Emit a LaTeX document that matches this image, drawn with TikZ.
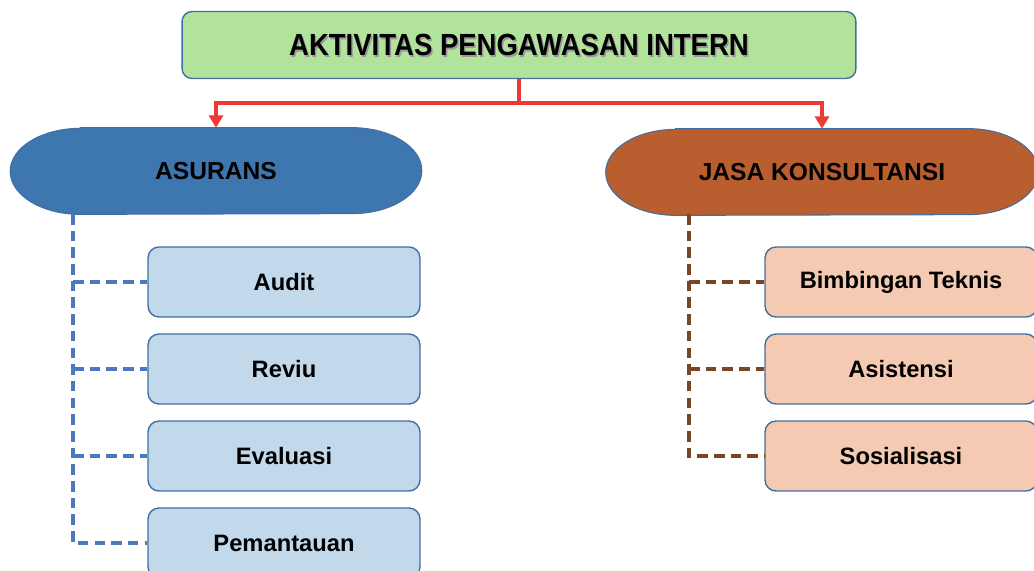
\documentclass[tikz,border=0pt]{standalone}
\usepackage{fontspec}
\setmainfont{Liberation Sans}
\usetikzlibrary{arrows.meta,backgrounds}
\definecolor{titlegreen}{RGB}{178,227,155}
\definecolor{edgeblue}{RGB}{68,109,160}
\definecolor{asuransblue}{RGB}{62,119,176}
\definecolor{jasabrown}{RGB}{185,94,46}
\definecolor{lightblue}{RGB}{194,216,235}
\definecolor{lightpeach}{RGB}{244,203,178}
\definecolor{dashblue}{RGB}{76,120,190}
\definecolor{dashbrown}{RGB}{122,68,39}
\definecolor{linkred}{RGB}{236,59,52}
\begin{document}
\begin{tikzpicture}[x=0.02cm,y=0.02cm,
    title node/.style={rectangle,rounded corners=0.2cm,draw=edgeblue,line width=0.8pt,fill=titlegreen,minimum width=13.48cm,minimum height=1.34cm},
    title text/.style={font=\bfseries\fontsize{17.4}{20}\selectfont},
    group node/.style={rectangle,minimum height=1.72cm,font=\bfseries\fontsize{14}{16}\selectfont},
    group shape/.style={draw=edgeblue,line width=0.6pt},
    item node/.style={rectangle,rounded corners=0.22cm,draw=edgeblue,line width=0.8pt,minimum width=5.44cm,minimum height=1.4cm,font=\bfseries\fontsize{13.5}{16}\selectfont},
    red link/.style={draw=linkred,line width=2.3pt,-{Triangle[length=7pt,width=8pt]}},
    blue dash/.style={draw=dashblue,line width=2.3pt,dash pattern=on 6pt off 3.5pt},
    brown dash/.style={draw=dashbrown,line width=2.3pt,dash pattern=on 6pt off 3.5pt}]
    \useasboundingbox (0,0) rectangle (1034,-571);
    \node[title node] at (519,-45) (title) {};
    \node[title text,text=gray!80] at (520.5,-46.5) {\scalebox{0.9}[1]{AKTIVITAS PENGAWASAN INTERN}};
    \node[title text] at (519,-45) (titletext) {\scalebox{0.9}[1]{AKTIVITAS PENGAWASAN INTERN}};
    \node[group node,minimum width=8.22cm] at (216,-171) (asurans) {ASURANS};
    \node[group node,minimum width=8.64cm] at (822,-172) (jasa) {JASA KONSULTANSI};
    \begin{scope}[on background layer]
        \foreach \g/\c in {asurans/asuransblue,jasa/jasabrown}
            \path[group shape,fill=\c] ([xshift=1.4cm]\g.north west) -- ([xshift=-1.4cm]\g.north east)
                arc[start angle=90,end angle=-90,x radius=1.4cm,y radius=0.86cm]
                -- ([xshift=1.4cm]\g.south west)
                arc[start angle=270,end angle=90,x radius=1.4cm,y radius=0.86cm] -- cycle;
    \end{scope}
    \node[item node,fill=lightblue] at (284,-282) (audit) {Audit};
    \node[item node,fill=lightblue] at (284,-369) (reviu) {Reviu};
    \node[item node,fill=lightblue] at (284,-456) (evaluasi) {Evaluasi};
    \node[item node,fill=lightblue] at (284,-543) (pemantauan) {Pemantauan};
    \node[item node,fill=lightpeach] at (901,-282) (bimtek) {Bimbingan Teknis};
    \node[item node,fill=lightpeach] at (901,-369) (asistensi) {Asistensi};
    \node[item node,fill=lightpeach] at (901,-456) (sosialisasi) {Sosialisasi};
    \coordinate (lspine) at (73,-214);
    \coordinate (rspine) at (689,-214);
    \coordinate (fork) at (519,-103);
    \path[red link] (title.south) -- (fork) -| (asurans.north);
    \path[red link] (title.south) -- (fork) -| (jasa.north);
    \path[blue dash] (lspine) |- (pemantauan.west);
    \foreach \n in {audit,reviu,evaluasi}
        \path[blue dash] (lspine |- \n.west) -- (\n.west);
    \path[brown dash] (rspine) |- (sosialisasi.west);
    \foreach \n in {bimtek,asistensi}
        \path[brown dash] (rspine |- \n.west) -- (\n.west);
\end{tikzpicture}
\end{document}
